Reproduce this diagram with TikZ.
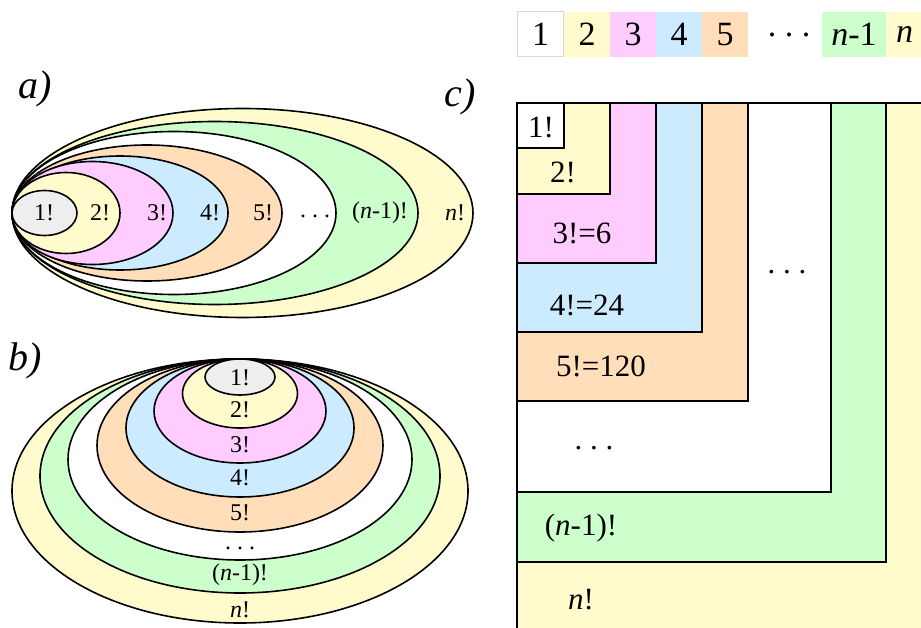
\documentclass[tikz,border=0pt]{standalone}
\usepackage{fontspec}
\setmainfont{Liberation Serif}
\definecolor{fgray}{HTML}{EEEEEE}
\definecolor{fyel}{HTML}{FFFBCC}
\definecolor{fpink}{HTML}{FFCCFF}
\definecolor{fblue}{HTML}{CCEBFF}
\definecolor{forange}{HTML}{FFDEB9}
\definecolor{fgreen}{HTML}{CCFFCC}
\newcommand\spdots{.\kern0.25em.\kern0.25em.}
\tikzset{
  lab/.style={font=\fontsize{24}{24}\selectfont,inner sep=0pt},
  clab/.style={font=\fontsize{31}{31}\selectfont,inner sep=0pt},
  key/.style={font=\fontsize{34}{34}\selectfont,minimum width=46pt,minimum height=45pt,inner sep=0pt,outer sep=0pt},
  part/.style={font=\fontsize{40}{40}\selectfont\itshape,inner sep=0pt},
  ring/.style={draw=black,line width=1.6pt},
}
\begin{document}
\begin{tikzpicture}[x=1pt,y=-1pt]
\clip (0,0) rectangle (921,628);
\fill[white] (0,0) rectangle (921,628);
% a) nested ellipses, all touching at the left point
\foreach \rx/\ry/\col in {230.5/104.5/fyel,203/91.5/fgreen,162/81.5/white,135/68/forange,108/57/fblue,80.5/51.5/fpink,54/40.5/fyel,32.5/22.5/fgray}
  \filldraw[ring,fill=\col] (12+\rx,213) ellipse ({\rx} and {\ry});
\node[part] (pa) at (35,89) {a)};
\node[lab] (a1) at (44,213) {1!};
\node[lab] (a2) at (100,213) {2!};
\node[lab] (a3) at (157,213) {3!};
\node[lab] (a4) at (210,213) {4!};
\node[lab] (a5) at (263,213) {5!};
\node[lab] (a6) at (315,216) {\spdots};
\node[lab] (a7) at (380,213) {(\textit{n}-1)!};
\node[lab] (a8) at (455,213) {\textit{n}!};
% b) nested ellipses, all touching at the top point
\foreach \rx/\ry/\col in {228/132/fyel,200/117/fgreen,172/100.5/white,143/86.5/forange,114/69/fblue,86/52/fpink,57.5/34.5/fyel,35/18/fgray}
  \filldraw[ring,fill=\col] (240,359+\ry) ellipse ({\rx} and {\ry});
\node[part] (pb) at (25,361) {b)};
\node[lab] (b1) at (240,378) {1!};
\node[lab] (b2) at (240,410) {2!};
\node[lab] (b3) at (240,445) {3!};
\node[lab] (b4) at (240,478) {4!};
\node[lab] (b5) at (240,513) {5!};
\node[lab] (b6) at (240,548) {\spdots};
\node[lab] (b7) at (240,575) {(\textit{n}-1)!};
\node[lab] (b8) at (240,610) {\textit{n}!};
% c) nested rectangles from the top left corner
\foreach \xr/\yb/\col in {940/640/fyel,886/562/fgreen,831/492/white,748/401/forange,702/332/fblue,656/263/fpink,610/194/fyel,564/148/white}
  \filldraw[ring,fill=\col] (517,103) rectangle (\xr,\yb);
\node[part] (pc) at (460,97) {c)};
\node[clab] (c1) at (541,127) {1!};
\node[clab] (c2) at (563,172) {2!};
\node[clab] (c3) at (582,233) {3!=6};
\node[clab] (c4) at (587,305) {4!=24};
\node[clab] (c5) at (601,366) {5!=120};
\node[clab] (cv) at (787,272) {\spdots};
\node[clab] (ch) at (594,448) {\spdots};
\node[clab] (c7) at (581,528) {(\textit{n}-1)!};
\node[clab] (c8) at (581,600) {\textit{n}!};
% key row of colours
\node[key,draw=black!15,line width=1pt] (k1) at (540.5,34.5) {1};
\node[key,fill=fyel] (k2) at (587,34.5) {2};
\node[key,fill=fpink] (k3) at (633,34.5) {3};
\node[key,fill=fblue] (k4) at (679,34.5) {4};
\node[key,fill=forange] (k5) at (725,34.5) {5};
\node[key,minimum width=0pt] (kd) at (789,34.5) {\spdots};
\node[key,fill=fgreen,minimum width=64pt] (kn1) at (854,34.5) {\textit{n}-1};
\node[key,fill=fyel,minimum width=56pt,text width=36pt,align=left] (kn) at (914,34.5) {\textit{n}};
\end{tikzpicture}
\end{document}
